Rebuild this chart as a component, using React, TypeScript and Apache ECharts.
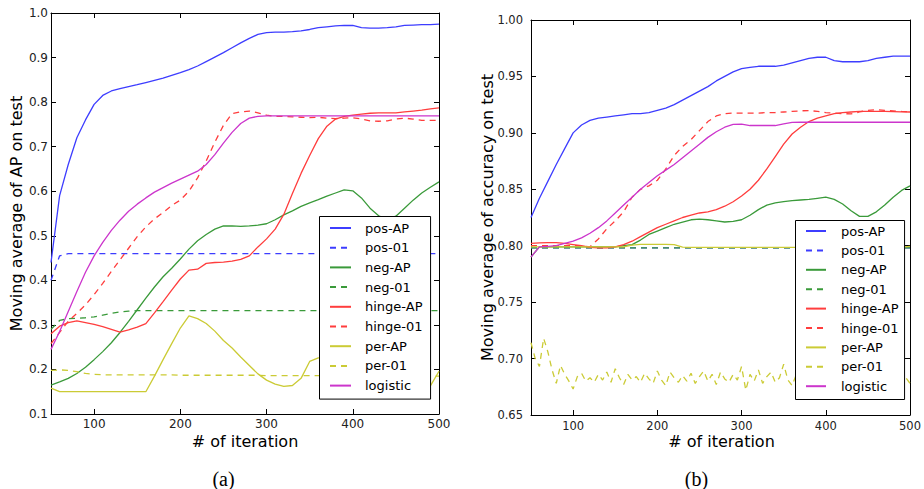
import React, { useEffect, useRef } from "react";
import * as echarts from "echarts";

// ---------- data ----------
const iterations = [
  50, 60, 70, 80, 90, 100, 110, 120, 130, 140, 150, 160, 170, 180, 190, 200,
  210, 220, 230, 240, 250, 260, 270, 280, 290, 300, 310, 320, 330, 340, 350,
  360, 370, 380, 390, 400, 410, 420, 430, 440, 450, 460, 470, 480, 490, 500,
];

const seriesNames = [
  "pos-AP", "pos-01", "neg-AP", "neg-01", "hinge-AP", "hinge-01", "per-AP", "per-01", "logistic",
];

// (a) Moving average of AP on test
const posAP_a = [
  0.44, 0.59, 0.66, 0.72, 0.76, 0.795, 0.815, 0.825, 0.83, 0.835, 0.839, 0.844, 0.849, 0.854, 0.86, 0.866,
  0.873, 0.881, 0.891, 0.901, 0.911, 0.922, 0.933, 0.943, 0.952, 0.956, 0.957, 0.957, 0.958, 0.96, 0.963,
  0.967, 0.969, 0.971, 0.972, 0.972, 0.967, 0.966, 0.966, 0.967, 0.969, 0.972, 0.973, 0.974, 0.974, 0.975,
];
const pos01_a = [
  0.4, 0.455, 0.46, 0.46, 0.46, 0.46, 0.46, 0.46, 0.46, 0.46, 0.46, 0.46, 0.46, 0.46, 0.46, 0.46,
  0.46, 0.46, 0.46, 0.46, 0.46, 0.46, 0.46, 0.46, 0.46, 0.46, 0.46, 0.46, 0.46, 0.46, 0.46,
  0.46, 0.46, 0.46, 0.46, 0.46, 0.46, 0.46, 0.46, 0.46, 0.46, 0.46, 0.46, 0.46, 0.46, 0.46,
];
const negAP_a = [
  0.165, 0.172, 0.18, 0.191, 0.205, 0.222, 0.24, 0.26, 0.283, 0.308, 0.334, 0.36, 0.385, 0.408, 0.427, 0.448,
  0.47, 0.489, 0.503, 0.515, 0.522, 0.522, 0.521, 0.522, 0.524, 0.527, 0.536, 0.547, 0.556, 0.566, 0.574,
  0.581, 0.589, 0.596, 0.603, 0.601, 0.585, 0.562, 0.545, 0.537, 0.544, 0.562, 0.58, 0.596, 0.609, 0.621,
];
const neg01_a = [
  0.29, 0.31, 0.314, 0.315, 0.316, 0.318, 0.322, 0.326, 0.329, 0.331, 0.332, 0.332, 0.332, 0.332, 0.332, 0.332,
  0.332, 0.332, 0.332, 0.332, 0.332, 0.332, 0.332, 0.332, 0.332, 0.332, 0.332, 0.332, 0.332, 0.332, 0.332,
  0.332, 0.332, 0.332, 0.332, 0.332, 0.332, 0.332, 0.332, 0.332, 0.332, 0.332, 0.332, 0.332, 0.332, 0.332,
];
const hingeAP_a = [
  0.28, 0.297, 0.305, 0.309, 0.305, 0.301, 0.296, 0.29, 0.284, 0.289, 0.295, 0.303, 0.327, 0.352, 0.378, 0.403,
  0.423, 0.425, 0.438, 0.44, 0.441, 0.443, 0.447, 0.455, 0.475, 0.493, 0.515, 0.548, 0.595, 0.64, 0.68,
  0.718, 0.746, 0.762, 0.768, 0.771, 0.773, 0.775, 0.776, 0.776, 0.776, 0.778, 0.78, 0.782, 0.785, 0.787,
];
const hinge01_a = [
  0.258, 0.283, 0.308, 0.326, 0.345, 0.368, 0.393, 0.42, 0.446, 0.472, 0.498, 0.52, 0.538, 0.552, 0.568, 0.58,
  0.6, 0.63, 0.668, 0.71, 0.748, 0.774, 0.778, 0.78, 0.776, 0.771, 0.768, 0.768, 0.767, 0.766, 0.765,
  0.766, 0.764, 0.763, 0.764, 0.765, 0.762, 0.758, 0.757, 0.758, 0.762, 0.764, 0.762, 0.759, 0.759, 0.759,
];
const perAP_a = [
  0.158, 0.15, 0.15, 0.15, 0.15, 0.15, 0.15, 0.15, 0.15, 0.15, 0.15, 0.15, 0.185, 0.222, 0.258, 0.293,
  0.32, 0.314, 0.303, 0.286, 0.265, 0.248, 0.228, 0.209, 0.19, 0.176, 0.167, 0.162, 0.164, 0.18, 0.218,
  0.226, 0.226, 0.222, 0.21, 0.2, 0.19, 0.18, 0.175, 0.17, 0.167, 0.165, 0.163, 0.162, 0.163, 0.196,
];
const per01_a = [
  0.198, 0.199, 0.198, 0.195, 0.191, 0.189, 0.188, 0.188, 0.188, 0.188, 0.188, 0.188, 0.188, 0.188, 0.188, 0.187,
  0.187, 0.187, 0.187, 0.187, 0.187, 0.187, 0.187, 0.187, 0.187, 0.186, 0.186, 0.186, 0.186, 0.186, 0.186,
  0.186, 0.186, 0.186, 0.186, 0.185, 0.185, 0.185, 0.185, 0.185, 0.185, 0.185, 0.185, 0.185, 0.185, 0.185,
];
const logistic_a = [
  0.245, 0.285, 0.33, 0.375, 0.418, 0.455, 0.485, 0.512, 0.535, 0.555, 0.571, 0.585, 0.598, 0.608, 0.618, 0.627,
  0.636, 0.645, 0.66, 0.682, 0.708, 0.732, 0.752, 0.764, 0.768, 0.769, 0.769, 0.769, 0.769, 0.769, 0.769,
  0.769, 0.769, 0.769, 0.769, 0.769, 0.769, 0.769, 0.769, 0.769, 0.769, 0.769, 0.769, 0.769, 0.769, 0.769,
];

// (b) Moving average of accuracy on test
const posAP_b = [
  0.825, 0.842, 0.857, 0.872, 0.886, 0.9, 0.907, 0.911, 0.913, 0.914, 0.915, 0.916, 0.917, 0.917, 0.918, 0.92,
  0.922, 0.925, 0.929, 0.933, 0.937, 0.941, 0.946, 0.95, 0.954, 0.957, 0.958, 0.959, 0.959, 0.959, 0.96,
  0.962, 0.964, 0.966, 0.967, 0.967, 0.964, 0.963, 0.963, 0.963, 0.964, 0.966, 0.967, 0.968, 0.968, 0.968,
];
const pos01_b = [
  0.798, 0.798, 0.798, 0.798, 0.798, 0.798, 0.798, 0.798, 0.798, 0.798, 0.798, 0.798, 0.798, 0.798, 0.798, 0.798,
  0.798, 0.798, 0.798, 0.798, 0.798, 0.798, 0.798, 0.798, 0.798, 0.798, 0.798, 0.798, 0.798, 0.798, 0.798,
  0.798, 0.798, 0.798, 0.798, 0.798, 0.798, 0.798, 0.798, 0.798, 0.798, 0.798, 0.798, 0.798, 0.798, 0.798,
];
const negAP_b = [
  0.79, 0.799, 0.799, 0.799, 0.799, 0.799, 0.799, 0.799, 0.799, 0.799, 0.799, 0.8, 0.801, 0.805, 0.81, 0.813,
  0.816, 0.819, 0.821, 0.823, 0.8235, 0.823, 0.822, 0.821, 0.8215, 0.823, 0.827, 0.832, 0.836, 0.838, 0.839,
  0.84, 0.8405, 0.841, 0.842, 0.843, 0.841, 0.837, 0.831, 0.826, 0.826, 0.83, 0.836, 0.843, 0.849, 0.853,
];
const neg01_b = [
  0.798, 0.798, 0.798, 0.798, 0.798, 0.798, 0.798, 0.798, 0.798, 0.798, 0.798, 0.798, 0.798, 0.798, 0.798, 0.798,
  0.798, 0.798, 0.798, 0.798, 0.798, 0.798, 0.798, 0.798, 0.798, 0.798, 0.798, 0.798, 0.798, 0.798, 0.798,
  0.798, 0.798, 0.798, 0.798, 0.798, 0.798, 0.798, 0.798, 0.798, 0.798, 0.798, 0.798, 0.798, 0.798, 0.798,
];
const hingeAP_b = [
  0.802, 0.8025, 0.8027, 0.8027, 0.802, 0.801, 0.8, 0.7985, 0.798, 0.798, 0.799, 0.801, 0.804, 0.808, 0.812, 0.816,
  0.819, 0.822, 0.825, 0.827, 0.829, 0.83, 0.832, 0.835, 0.839, 0.844, 0.85, 0.858, 0.868, 0.879, 0.89,
  0.899, 0.905, 0.91, 0.913, 0.915, 0.917, 0.918, 0.9185, 0.919, 0.919, 0.919, 0.919, 0.9188, 0.9186, 0.9185,
];
const hinge01_b = [
  0.8, 0.8, 0.8, 0.8, 0.8, 0.8, 0.8, 0.799, 0.806, 0.815, 0.822, 0.83, 0.843, 0.85, 0.853, 0.858,
  0.868, 0.88, 0.888, 0.894, 0.902, 0.91, 0.915, 0.917, 0.9175, 0.9175, 0.9175, 0.9175, 0.918, 0.918, 0.9185,
  0.919, 0.9195, 0.9198, 0.919, 0.918, 0.9175, 0.917, 0.9168, 0.9185, 0.92, 0.9205, 0.92, 0.9195, 0.919, 0.9188,
];
const perAP_b = [
  0.799, 0.799, 0.799, 0.799, 0.799, 0.799, 0.799, 0.799, 0.799, 0.799, 0.799, 0.799, 0.8005, 0.8012, 0.8012, 0.8012,
  0.8012, 0.801, 0.7988, 0.7985, 0.7985, 0.7985, 0.7985, 0.7985, 0.7985, 0.7985, 0.7985, 0.7985, 0.7985, 0.7985, 0.7985,
  0.7985, 0.7985, 0.7985, 0.7985, 0.7985, 0.7985, 0.7985, 0.7985, 0.7985, 0.7985, 0.7985, 0.7985, 0.7985, 0.7988, 0.7995,
];
const logistic_b = [
  0.79, 0.799, 0.7995, 0.8, 0.802, 0.804, 0.807, 0.811, 0.816, 0.822, 0.829, 0.836, 0.843, 0.85, 0.856, 0.862,
  0.867, 0.872, 0.878, 0.884, 0.89, 0.896, 0.901, 0.905, 0.9075, 0.9078, 0.9065, 0.9065, 0.9065, 0.9065, 0.908,
  0.9092, 0.9094, 0.9094, 0.9094, 0.9094, 0.9094, 0.9094, 0.9094, 0.9094, 0.9094, 0.9094, 0.9094, 0.9094, 0.9094, 0.9094,
];

// per-01 in (b) is noisy, recorded on a finer grid
const iterationsFine = [
  50, 55, 60, 65, 70, 75, 80, 85, 90, 95, 100, 105, 110, 115, 120, 125, 130, 135, 140, 145,
  150, 155, 160, 165, 170, 175, 180, 185, 190, 195, 200, 205, 210, 215, 220, 225, 230, 235, 240, 245,
  250, 255, 260, 265, 270, 275, 280, 285, 290, 295, 300, 305, 310, 315, 320, 325, 330, 335, 340, 345,
  350, 355, 360, 365, 370, 375, 380, 385, 390, 395, 400, 405, 410, 415, 420, 425, 430, 435, 440, 445,
  450, 455, 460, 465, 470, 475, 480, 485, 490, 495, 500,
];
const per01_b = [
  0.714, 0.7, 0.693, 0.718, 0.706, 0.69, 0.678, 0.694, 0.686, 0.68, 0.673, 0.684, 0.687, 0.68, 0.683, 0.679, 0.686, 0.681, 0.688, 0.679,
  0.691, 0.683, 0.677, 0.686, 0.681, 0.684, 0.679, 0.687, 0.682, 0.678, 0.689, 0.681, 0.676, 0.688, 0.683, 0.679, 0.685, 0.68, 0.687, 0.678,
  0.684, 0.689, 0.68, 0.686, 0.677, 0.688, 0.682, 0.679, 0.686, 0.681, 0.693, 0.672, 0.686, 0.68, 0.69, 0.678, 0.684, 0.688, 0.679, 0.683,
  0.695, 0.681, 0.676, 0.686, 0.682, 0.679, 0.687, 0.681, 0.684, 0.678, 0.686, 0.682, 0.679, 0.688, 0.681, 0.684, 0.677, 0.686, 0.682, 0.68,
  0.687, 0.683, 0.679, 0.685, 0.681, 0.688, 0.682, 0.679, 0.69, 0.683, 0.678,
];

const xTicks = [100, 200, 300, 400, 500];

// ---------- styles ----------
const FONT = "DejaVu Sans";
const colors = {
  blue: "#3d3dff",
  green: "#3a9a3a",
  red: "#ff3d3d",
  yellow: "#cbcb35",
  magenta: "#cc35cc",
};
const styleOf: Record<string, { color: string; dashed: boolean }> = {
  "pos-AP": { color: colors.blue, dashed: false },
  "pos-01": { color: colors.blue, dashed: true },
  "neg-AP": { color: colors.green, dashed: false },
  "neg-01": { color: colors.green, dashed: true },
  "hinge-AP": { color: colors.red, dashed: false },
  "hinge-01": { color: colors.red, dashed: true },
  "per-AP": { color: colors.yellow, dashed: false },
  "per-01": { color: colors.yellow, dashed: true },
  logistic: { color: colors.magenta, dashed: false },
};

function zip(xs: number[], ys: number[]) {
  return ys.map((y, i) => [xs[i], y]);
}

function lineSeries(name: string, data: number[][], xi: number, yi: number) {
  const s = styleOf[name];
  return {
    type: "line",
    name,
    data,
    xAxisIndex: xi,
    yAxisIndex: yi,
    symbol: "none",
    showSymbol: false,
    silent: true,
    z: 2,
    lineStyle: {
      color: s.color,
      width: 1.3,
      type: s.dashed ? [6, 5] : "solid",
    },
    itemStyle: { color: s.color },
    emphasis: { disabled: true },
  };
}

function xAxes(gridIndex: number, fontSize: number, margin: number) {
  const common = {
    type: "value",
    gridIndex,
    min: 50,
    max: 500,
    splitLine: { show: false },
    axisLine: { show: true, onZero: false, lineStyle: { color: "#000", width: 1 } },
    axisTick: { show: true, inside: true, length: 5, customValues: xTicks, lineStyle: { color: "#000" } },
  };
  return [
    {
      ...common,
      position: "bottom",
      axisLabel: {
        show: true,
        customValues: xTicks,
        margin,
        fontFamily: FONT,
        fontSize,
        color: "#222",
      },
    },
    { ...common, position: "top", axisLabel: { show: false } },
  ];
}

function yAxes(gridIndex: number, min: number, max: number, interval: number, digits: number, fontSize: number, margin: number) {
  const common = {
    type: "value",
    gridIndex,
    min,
    max,
    interval,
    splitLine: { show: false },
    axisLine: { show: true, onZero: false, lineStyle: { color: "#000", width: 1 } },
    axisTick: { show: true, inside: true, length: 5, lineStyle: { color: "#000" } },
  };
  return [
    {
      ...common,
      position: "left",
      axisLabel: {
        show: true,
        margin,
        fontFamily: FONT,
        fontSize,
        color: "#222",
        formatter: (v: number) => v.toFixed(digits),
      },
    },
    { ...common, position: "right", axisLabel: { show: false } },
  ];
}

function legendAt(left: number, top: number, itemWidth: number, gap: number, textPad: number, padding: number[]) {
  return {
    orient: "vertical",
    left,
    top,
    padding,
    itemWidth,
    itemHeight: 14,
    itemGap: gap,
    selectedMode: false,
    backgroundColor: "#fff",
    borderColor: "#000",
    borderWidth: 1,
    borderRadius: 0,
    z: 5,
    data: seriesNames,
    itemStyle: { opacity: 0, borderWidth: 0 },
    textStyle: { fontFamily: FONT, fontSize: 13, color: "#000", padding: [0, 0, 0, textPad] },
  };
}

export default function App() {
  const ref = useRef<HTMLDivElement>(null);

  useEffect(() => {
    if (!ref.current) return;
    const chart = echarts.init(ref.current, null, { renderer: "svg" });

    const dataA: Record<string, number[]> = {
      "pos-AP": posAP_a,
      "pos-01": pos01_a,
      "neg-AP": negAP_a,
      "neg-01": neg01_a,
      "hinge-AP": hingeAP_a,
      "hinge-01": hinge01_a,
      "per-AP": perAP_a,
      "per-01": per01_a,
      logistic: logistic_a,
    };
    const dataB: Record<string, number[][]> = {
      "pos-AP": zip(iterations, posAP_b),
      "pos-01": zip(iterations, pos01_b),
      "neg-AP": zip(iterations, negAP_b),
      "neg-01": zip(iterations, neg01_b),
      "hinge-AP": zip(iterations, hingeAP_b),
      "hinge-01": zip(iterations, hinge01_b),
      "per-AP": zip(iterations, perAP_b),
      "per-01": zip(iterationsFine, per01_b),
      logistic: zip(iterations, logistic_b),
    };

    const series: any[] = [];
    seriesNames.forEach((n) => series.push(lineSeries(n, zip(iterations, dataA[n]), 0, 0)));
    seriesNames.forEach((n) => series.push(lineSeries(n, dataB[n], 2, 2)));

    const titleFont = `16px "${FONT}"`;

    chart.setOption({
      animation: false,
      backgroundColor: "#fff",
      grid: [
        { left: 51, top: 13, width: 388, height: 401, containLabel: false },
        { left: 531, top: 20, width: 381, height: 395, containLabel: false },
      ],
      xAxis: [...xAxes(0, 12, 4), ...xAxes(1, 11.5, 5)],
      yAxis: [...yAxes(0, 0.1, 1.0, 0.1, 1, 12, 3), ...yAxes(1, 0.65, 1.0, 0.05, 2, 11.5, 8)],
      legend: [
        legendAt(319.5, 216.5, 21, 6.7, 9, [5, 8, 7, 9.5]),
        legendAt(795.5, 220.5, 20, 6.4, 10, [4, 6, 6.8, 9.5]),
      ],
      graphic: [
        {
          type: "text",
          x: 16,
          y: 213.5,
          rotation: Math.PI / 2,
          style: { text: "Moving average of AP on test", font: titleFont, fill: "#000", textAlign: "center", textVerticalAlign: "middle" },
        },
        {
          type: "text",
          x: 487.5,
          y: 217.5,
          rotation: Math.PI / 2,
          style: { text: "Moving average of accuracy on test", font: titleFont, fill: "#000", textAlign: "center", textVerticalAlign: "middle" },
        },
        {
          type: "text",
          x: 245,
          y: 441,
          style: { text: "# of iteration", font: titleFont, fill: "#000", textAlign: "center", textVerticalAlign: "middle" },
        },
        {
          type: "text",
          x: 721.5,
          y: 441,
          style: { text: "# of iteration", font: titleFont, fill: "#000", textAlign: "center", textVerticalAlign: "middle" },
        },
        {
          type: "text",
          x: 223.5,
          y: 479,
          style: { text: "(a)", font: `20px "Liberation Serif"`, fill: "#000", textAlign: "center", textVerticalAlign: "middle" },
        },
        {
          type: "text",
          x: 696.5,
          y: 479,
          style: { text: "(b)", font: `20px "Liberation Serif"`, fill: "#000", textAlign: "center", textVerticalAlign: "middle" },
        },
      ],
      series,
    });

    return () => chart.dispose();
  }, []);

  return (
    <div
      ref={ref}
      style={{ position: "fixed", left: 0, top: 0, width: 924, height: 489, background: "#fff" }}
    />
  );
}
